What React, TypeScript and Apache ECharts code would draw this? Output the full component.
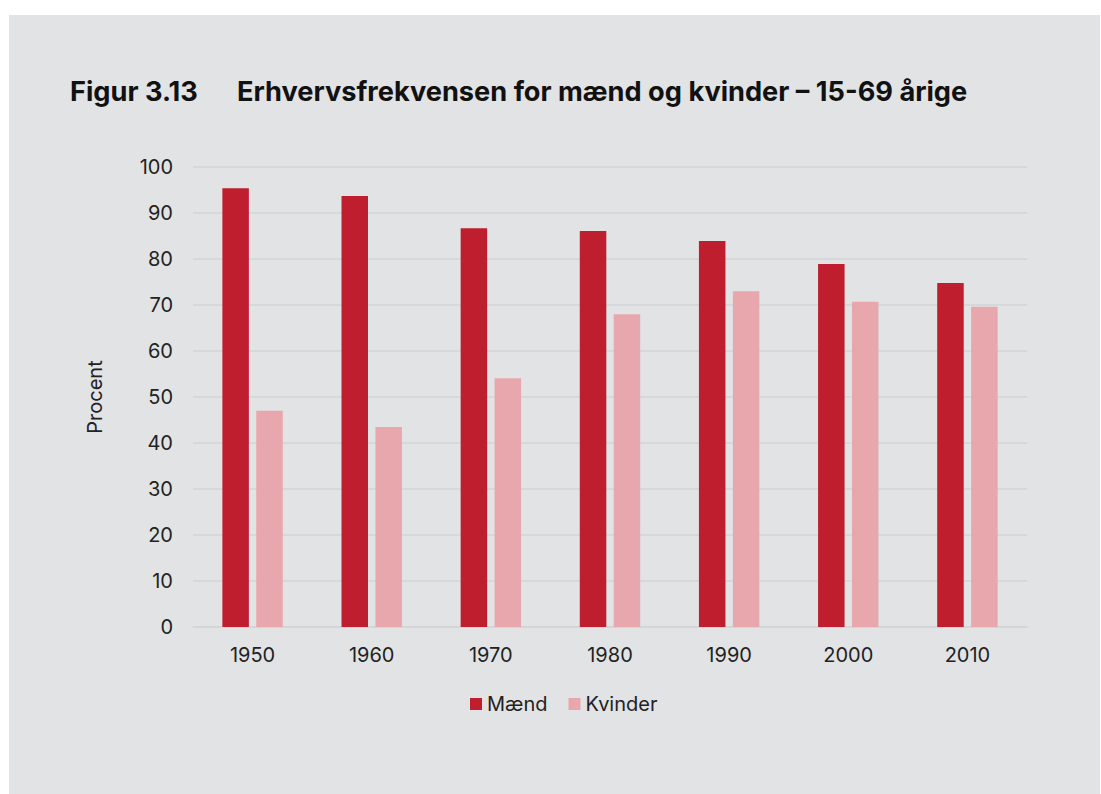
import React, { useEffect, useRef } from "react";
import * as echarts from "echarts";

const years = ["1950", "1960", "1970", "1980", "1990", "2000", "2010"];
const maend = [95.4, 93.7, 86.7, 86.1, 83.9, 78.9, 74.8];
const kvinder = [47.0, 43.5, 54.1, 68.0, 73.0, 70.7, 69.6];
const seriesNames = ["Mænd", "Kvinder"];
const titleNumber = "Figur 3.13";
const titleText = "Erhvervsfrekvensen for mænd og kvinder – 15-69 årige";
const yAxisTitle = "Procent";

const FONT = "Inter, 'Noto Sans', sans-serif";

export default function App() {
  const ref = useRef<HTMLDivElement>(null);
  useEffect(() => {
    if (!ref.current) return;
    const chart = echarts.init(ref.current, null, { renderer: "svg" });
    chart.setOption({
      animation: false,
      backgroundColor: "#e2e3e5",
      textStyle: { fontFamily: FONT },
      graphic: [
        {
          type: "text",
          left: 61,
          top: 63,
          style: { text: titleNumber, fontFamily: FONT, fontWeight: "bold", fontSize: 27.2, fill: "#111" },
        },
        {
          type: "text",
          left: 228,
          top: 63,
          style: { text: titleText, fontFamily: FONT, fontWeight: "bold", fontSize: 27.2, fill: "#111" },
        },
        {
          type: "text",
          x: 86,
          y: 382,
          rotation: Math.PI / 2,
          style: {
            text: yAxisTitle,
            fontFamily: FONT,
            fontSize: 20,
            fill: "#222",
            align: "center",
            verticalAlign: "middle",
          },
        },
      ],
      legend: {
        data: seriesNames,
        left: 456,
        top: 674,
        itemWidth: 12,
        itemHeight: 12,
        itemGap: 21,
        icon: "rect",
        textStyle: { fontFamily: FONT, fontSize: 20, color: "#222", padding: [0, 0, 0, 0] },
      },
      grid: { left: 184, right: 73, top: 152, bottom: 167, containLabel: false },
      xAxis: {
        type: "category",
        data: years,
        axisTick: { show: false },
        axisLine: { show: true, lineStyle: { color: "#d3d4d6", width: 1.5 } },
        axisLabel: { fontFamily: FONT, fontSize: 20, color: "#222", margin: 18 },
      },
      yAxis: {
        type: "value",
        min: 0,
        max: 100,
        interval: 10,
        axisLine: { show: false },
        axisTick: { show: false },
        axisLabel: { fontFamily: FONT, fontSize: 20, color: "#222", margin: 20 },
        splitLine: { lineStyle: { color: "#d3d4d6", width: 1.5 } },
      },
      series: [
        {
          name: seriesNames[0],
          type: "bar",
          data: maend,
          barWidth: 26.5,
          barGap: "28%",
          itemStyle: { color: "#be1e2d" },
        },
        {
          name: seriesNames[1],
          type: "bar",
          data: kvinder,
          barWidth: 26.5,
          itemStyle: { color: "#e8a7ac" },
        },
      ],
    });
    return () => chart.dispose();
  }, []);
  return (
    <div style={{ position: "fixed", left: 0, top: 0, width: 1101, height: 794, background: "#ffffff" }}>
      <div ref={ref} style={{ position: "absolute", left: 9, top: 15, width: 1091, height: 779 }} />
    </div>
  );
}
